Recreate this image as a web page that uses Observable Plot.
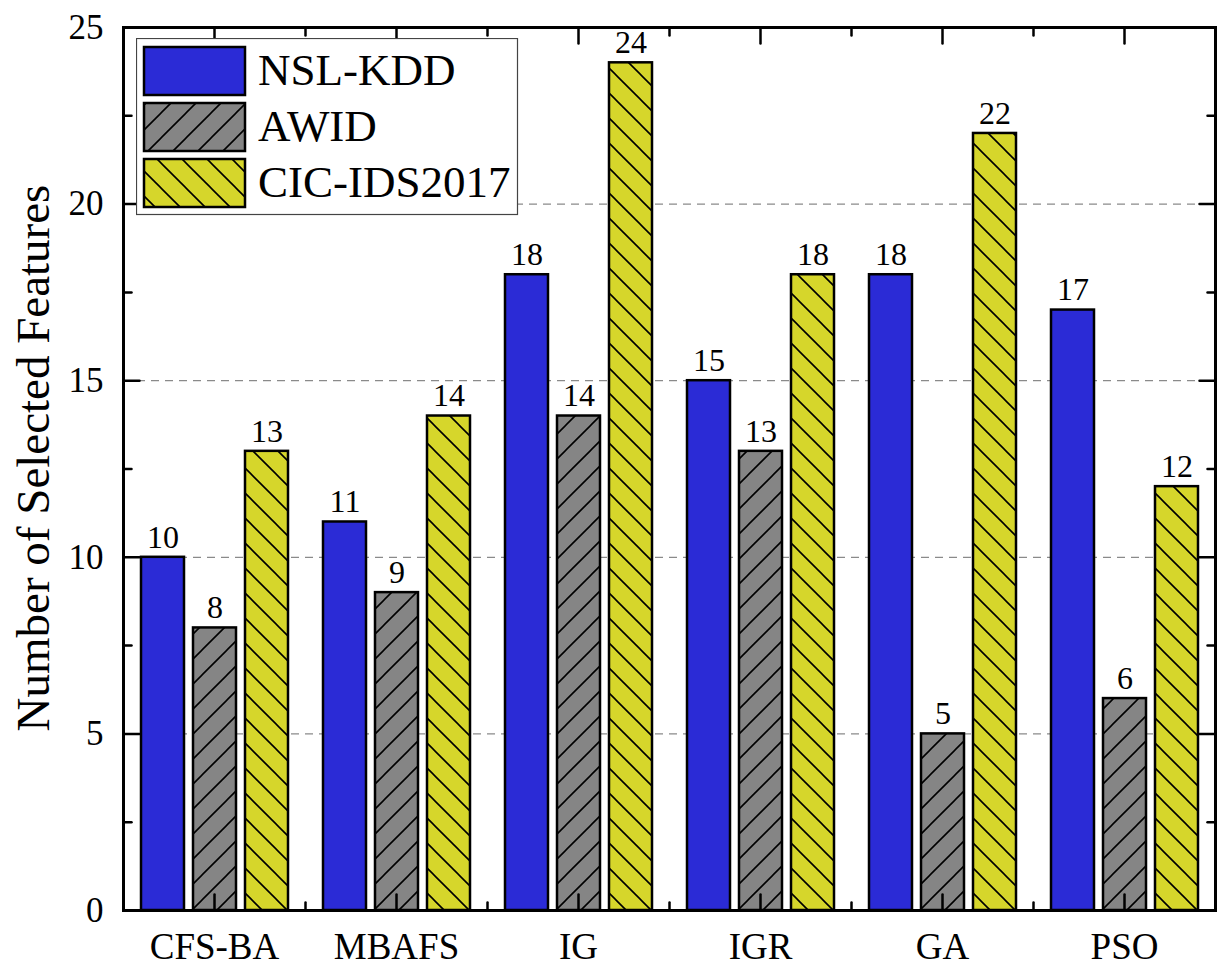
<!DOCTYPE html>
<html><head><meta charset="utf-8">
<script src="https://cdn.jsdelivr.net/npm/d3@7"></script>
<script src="https://cdn.jsdelivr.net/npm/@observablehq/plot@0.6"></script>
<style>
body{margin:0;background:#fff;}
#wrap{position:relative;width:1223px;height:971px;font-family:"Times New Roman","Liberation Serif","DejaVu Serif",serif;}
#legend{position:absolute;left:136px;top:38px;}
</style></head><body>
<div id="wrap"><div id="chart"></div><svg id="legend" width="383" height="178"></svg></div>
<script>
const methods = ["CFS-BA", "MBAFS", "IG", "IGR", "GA", "PSO"];
const series = ["NSL-KDD", "AWID", "CIC-IDS2017"];
const nslKdd = [10, 11, 18, 15, 18, 17];
const awid = [8, 9, 14, 13, 5, 6];
const cicIds2017 = [13, 14, 24, 18, 22, 12];
const yTicks = [0, 5, 10, 15, 20, 25];
const yMinorTicks = [2.5, 7.5, 12.5, 17.5, 22.5];
const gridValues = [5, 10, 15, 20];
const yLabel = "Number of Selected Features";
const seriesColors = ["#2B2BD6", "#858585", "#D6D62B"];
const seriesFills = ["#2B2BD6", "url(#hatchAwid)", "url(#hatchCic)"];
const FONT = '"Times New Roman", "Liberation Serif", "DejaVu Serif", serif';

const values = [nslKdd, awid, cicIds2017];
const rows = methods.flatMap((m, i) => series.map((s, j) => ({method: m, series: s, value: values[j][i]})));

// patterns + legend
const leg = d3.select("#legend");
const defs = leg.append("defs");
const P = 25;
const pA = defs.append("pattern").attr("id", "hatchAwid").attr("patternUnits", "userSpaceOnUse").attr("width", P).attr("height", P);
pA.append("rect").attr("width", P).attr("height", P).attr("fill", seriesColors[1]);
pA.append("path").attr("d", `M${-P/4},${P/4}L${P/4},${-P/4}M0,${P}L${P},0M${P*3/4},${P*5/4}L${P*5/4},${P*3/4}`).attr("stroke", "#000").attr("stroke-width", 1.6);
const pC = defs.append("pattern").attr("id", "hatchCic").attr("patternUnits", "userSpaceOnUse").attr("width", P).attr("height", P);
pC.append("rect").attr("width", P).attr("height", P).attr("fill", seriesColors[2]);
pC.append("path").attr("d", `M${-P/4},${P*3/4}L${P/4},${P*5/4}M0,0L${P},${P}M${P*3/4},${-P/4}L${P*5/4},${P/4}`).attr("stroke", "#000").attr("stroke-width", 1.6);

leg.append("rect").attr("x", 0.5).attr("y", 0.5).attr("width", 381).attr("height", 176).attr("fill", "#fff").attr("stroke", "#444").attr("stroke-width", 1.2);
series.forEach((s, i) => {
  leg.append("rect").attr("x", 8).attr("y", 9 + i * 56).attr("width", 101).attr("height", 48)
    .attr("fill", seriesFills[i]).attr("stroke", "#000").attr("stroke-width", 2.5);
  leg.append("text").attr("x", 122).attr("y", 47 + i * 56).attr("font-size", 45)
    .attr("font-family", FONT).text(s);
});

const tickLine = {draw(ctx, l) { ctx.moveTo(0, 0); ctx.lineTo(0, -l); }};

const bars = series.map((s, j) => Plot.barY(rows.filter(d => d.series === s), {
  fx: "method", x: "series", y: "value", fill: seriesFills[j], stroke: "#000", strokeWidth: 2.5
}));

const chart = Plot.plot({
  width: 1223, height: 971,
  marginLeft: 121, marginRight: 6, marginTop: 27, marginBottom: 61,
  style: {fontFamily: FONT, background: "white", color: "black"},
  fx: {domain: methods, padding: 0, label: null},
  x: {domain: series, paddingInner: 0.18, paddingOuter: 0.33, axis: null},
  y: {domain: [0, 25], axis: null},
  marks: [
    Plot.ruleY(gridValues, {stroke: "#8a8a8a", strokeWidth: 1.2, strokeDasharray: "8,6"}),
    ...bars,
    Plot.text(rows, {fx: "method", x: "series", y: "value", text: d => String(d.value), dy: -20, fontSize: 32}),
    Plot.frame({anchor: "top", strokeWidth: 3, strokeLinecap: "square"}),
    Plot.frame({anchor: "bottom", strokeWidth: 3, strokeLinecap: "square"}),
    Plot.frame({anchor: "left", strokeWidth: 3, strokeLinecap: "square", facetAnchor: "left"}),
    Plot.frame({anchor: "right", strokeWidth: 3, strokeLinecap: "square", facetAnchor: "right"}),
    Plot.vector(yTicks, {y: d => d, frameAnchor: "left", rotate: 90, length: 16, anchor: "start", shape: tickLine, strokeWidth: 2.5, facetAnchor: "left"}),
    Plot.vector(yMinorTicks, {y: d => d, frameAnchor: "left", rotate: 90, length: 8, anchor: "start", shape: tickLine, strokeWidth: 2.5, facetAnchor: "left"}),
    Plot.vector(yTicks, {y: d => d, frameAnchor: "right", rotate: -90, length: 16, anchor: "start", shape: tickLine, strokeWidth: 2.5, facetAnchor: "right"}),
    Plot.vector(yMinorTicks, {y: d => d, frameAnchor: "right", rotate: -90, length: 8, anchor: "start", shape: tickLine, strokeWidth: 2.5, facetAnchor: "right"}),
    Plot.vector([0], {frameAnchor: "bottom", rotate: 0, length: 16, anchor: "start", shape: tickLine, strokeWidth: 2.5}),
    Plot.vector([0], {frameAnchor: "top", rotate: 180, length: 16, anchor: "start", shape: tickLine, strokeWidth: 2.5}),
    Plot.vector([0], {frameAnchor: "bottom-left", rotate: 0, length: 8, anchor: "start", shape: tickLine, strokeWidth: 2.5}),
    Plot.vector([0], {frameAnchor: "top-left", rotate: 180, length: 8, anchor: "start", shape: tickLine, strokeWidth: 2.5}),
    Plot.axisY({ticks: yTicks, anchor: "left", tickSize: 0, tickPadding: 20, fontSize: 35, label: null}),
    Plot.axisFx({anchor: "bottom", tickSize: 0, tickPadding: 22, fontSize: 37, label: null}),
    Plot.text([yLabel], {text: d => d, frameAnchor: "left", textAnchor: "middle", rotate: -90, dx: -90, dy: -11, fontSize: 47, facetAnchor: "left"})
  ]
});
document.getElementById("chart").appendChild(chart);
</script>
</body></html>
